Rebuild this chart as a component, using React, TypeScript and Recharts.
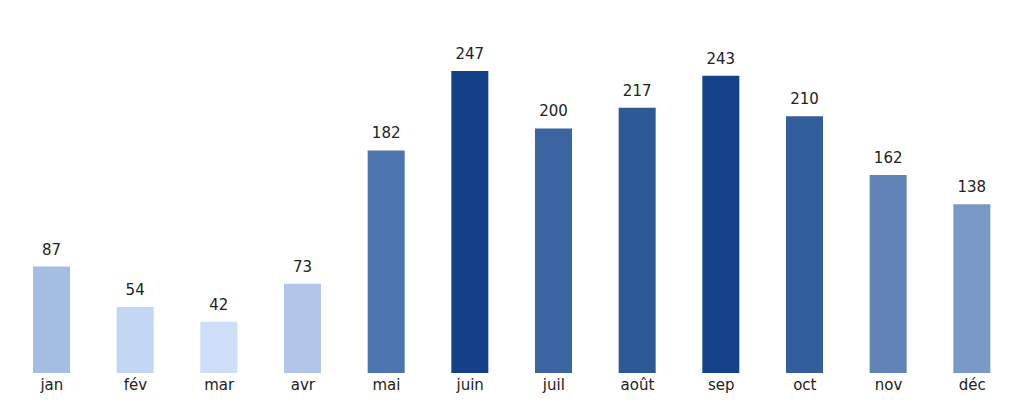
import { BarChart, Bar, XAxis, YAxis, Cell, LabelList } from "recharts";

const months = ["jan", "fév", "mar", "avr", "mai", "juin", "juil", "août", "sep", "oct", "nov", "déc"];
const values = [87, 54, 42, 73, 182, 247, 200, 217, 243, 210, 162, 138];
const colors = [
  "#a3bde3",
  "#c3d6f3",
  "#cddff8",
  "#b1c6e8",
  "#4c74ae",
  "#134087",
  "#3a65a0",
  "#2c5896",
  "#14428a",
  "#325e9b",
  "#6283b8",
  "#7a98c6",
];

const data = months.map((m, i) => ({ month: m, value: values[i] }));

const FONT = "DejaVu Sans, sans-serif";

export default function App() {
  return (
    <BarChart
      width={1008}
      height={396}
      data={data}
      margin={{ top: 22.6, right: 2, left: 2, bottom: 1 }}
      barCategoryGap={0}
    >
      <XAxis
        dataKey="month"
        axisLine={false}
        tickLine={false}
        height={30}
        tickMargin={0}
        tick={{ fill: "#222", fontSize: 15, fontFamily: FONT }}
      />
      <YAxis hide domain={[0, 280]} />
      <Bar dataKey="value" barSize={37} isAnimationActive={false}>
        {data.map((d, i) => (
          <Cell key={d.month} fill={colors[i]} />
        ))}
        <LabelList
          dataKey="value"
          position="top"
          offset={12}
          style={{ fill: "#222", fontSize: 15, fontFamily: FONT }}
        />
      </Bar>
    </BarChart>
  );
}
